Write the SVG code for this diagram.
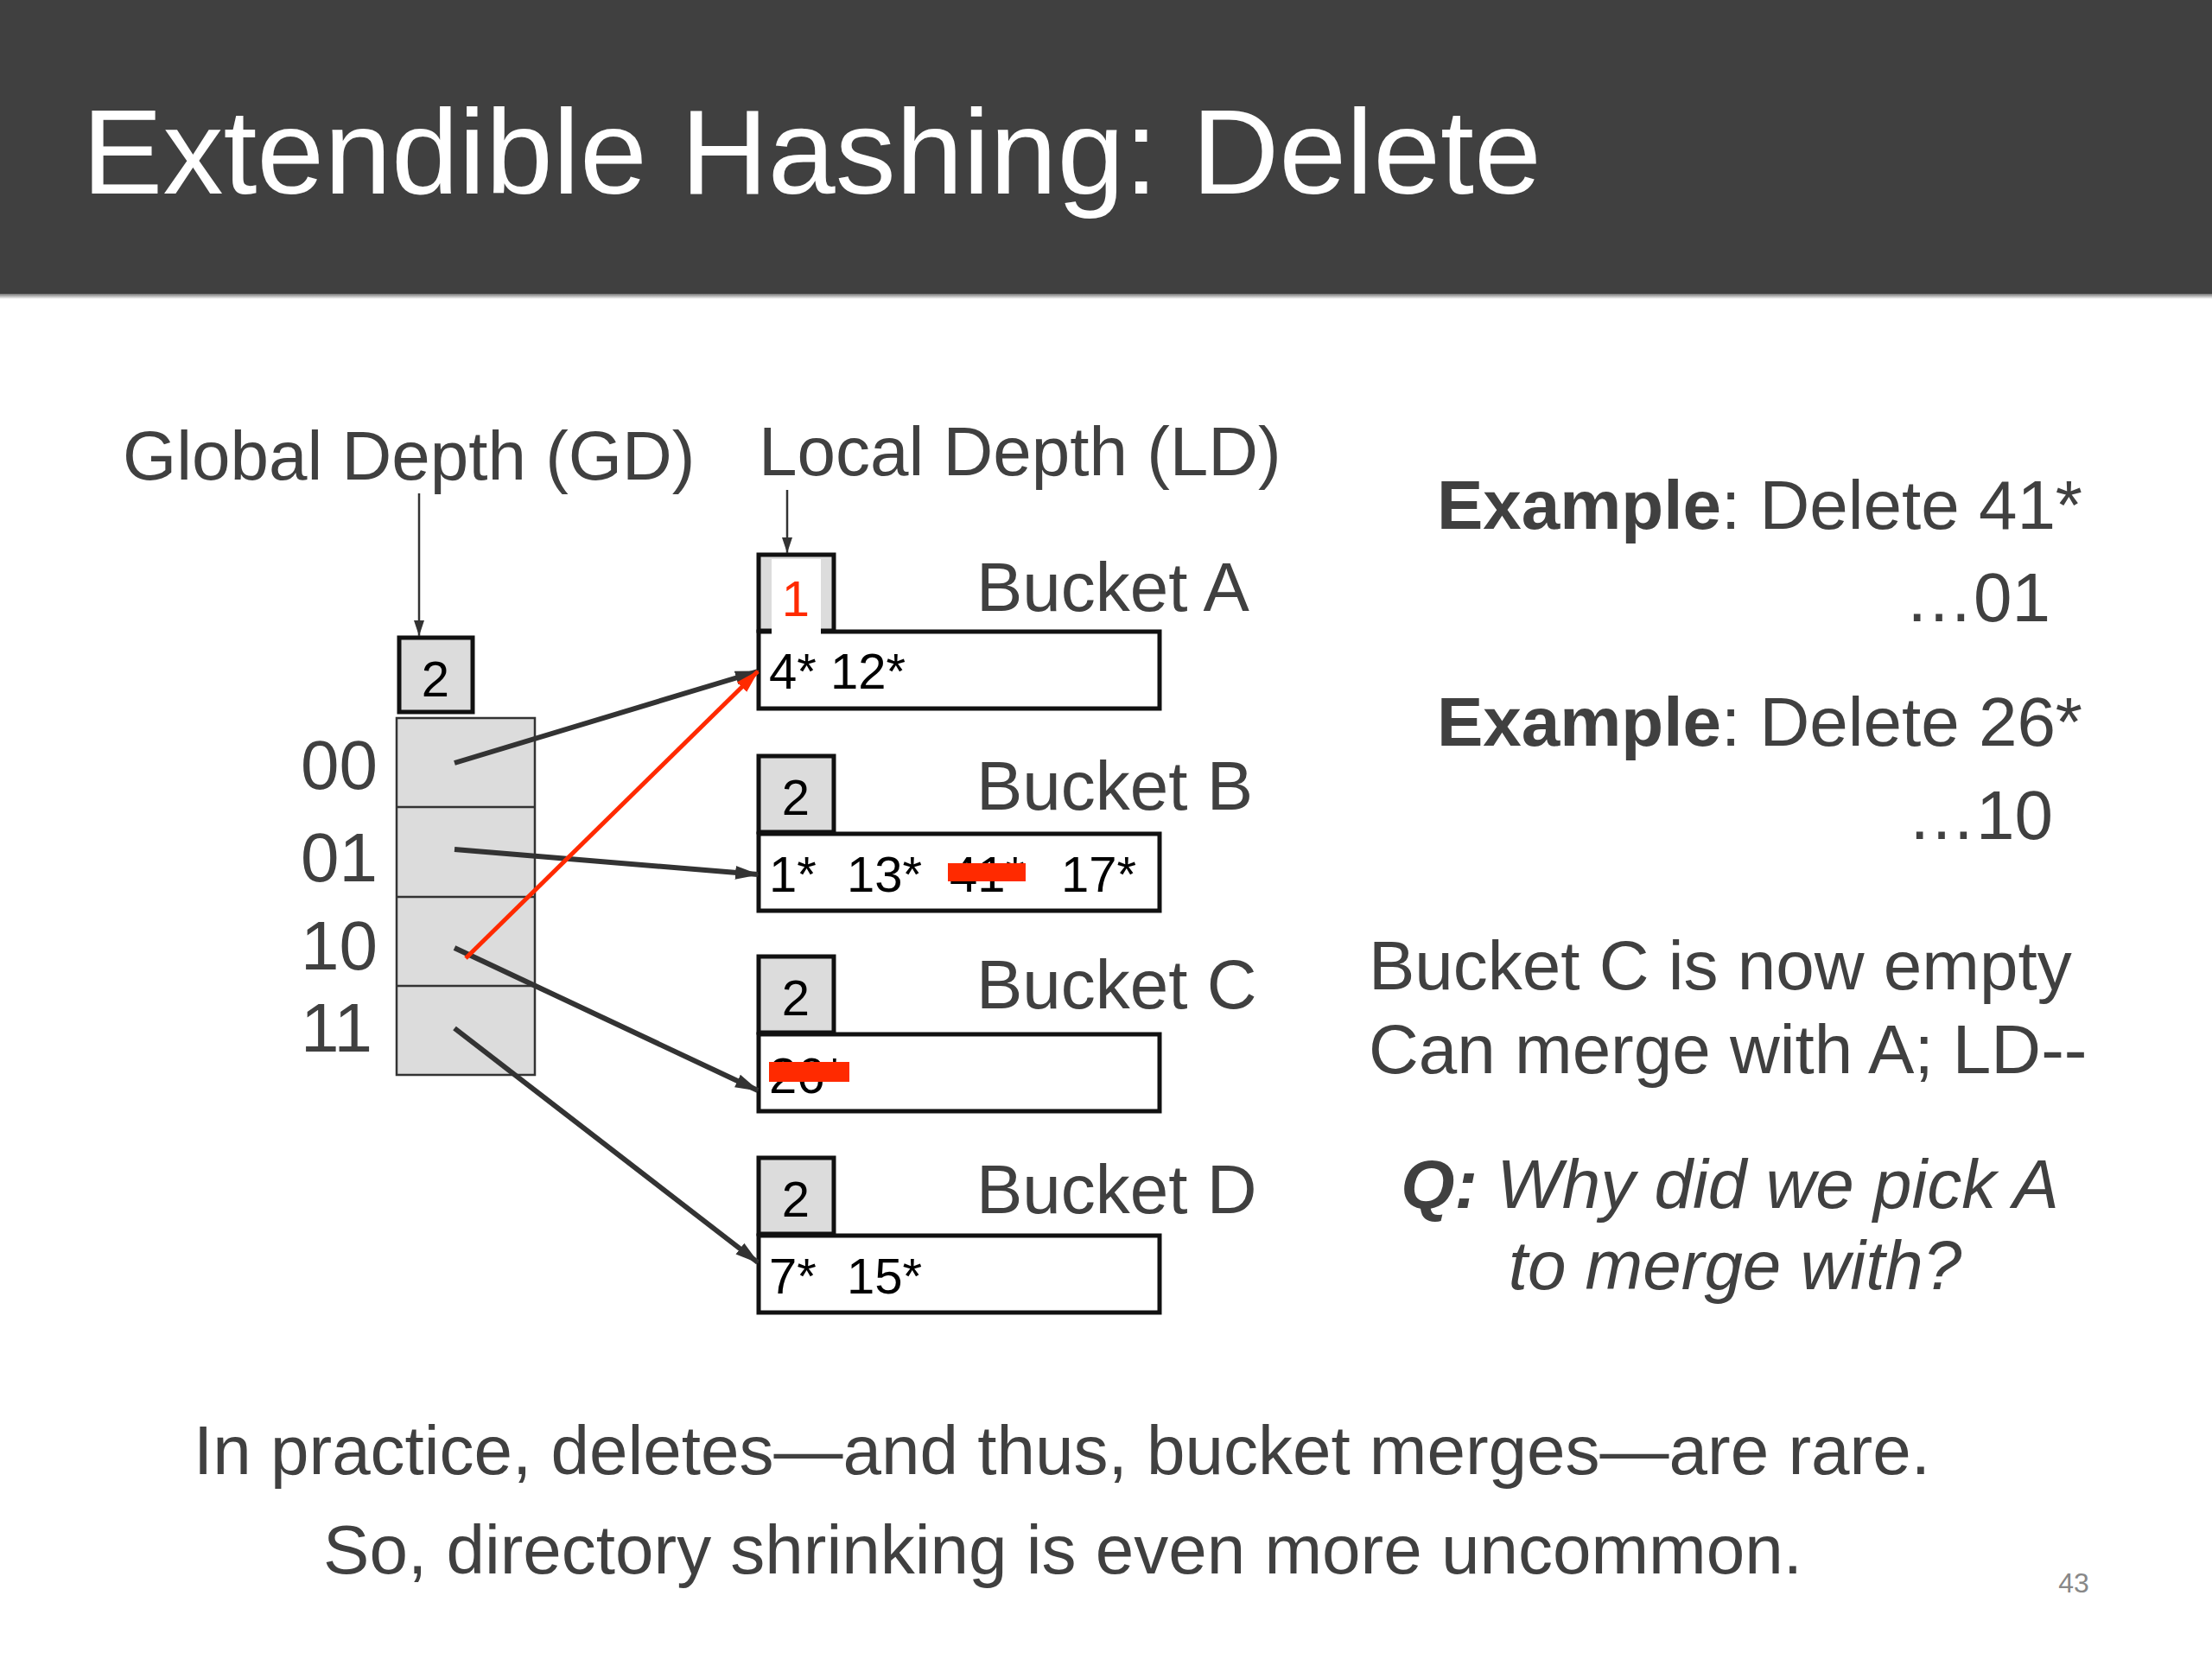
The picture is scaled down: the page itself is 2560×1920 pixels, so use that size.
<svg xmlns="http://www.w3.org/2000/svg" width="2560" height="1920" viewBox="0 0 2560 1920">
<defs>
<style>
text{font-family:"Liberation Sans",Arial,sans-serif;}
.lbl{font-size:80px;fill:#404040;}
.val{font-size:58px;fill:#000;}
.ld{fill:#dcdcdc;stroke:#111;stroke-width:5;}
.bk{fill:#fff;stroke:#111;stroke-width:5;}
.ptr{stroke:#333;stroke-width:6;fill:none;}
.thin{stroke:#333;stroke-width:2.5;fill:none;}
.strike{fill:#ff2a00;}
</style>
<marker id="ah" markerUnits="userSpaceOnUse" markerWidth="30" markerHeight="22" refX="26" refY="11" orient="auto">
<path d="M0,3 L28,11 L0,19 Z" fill="#333"/>
</marker>
<marker id="ahs" markerUnits="userSpaceOnUse" markerWidth="20" markerHeight="14" refX="18" refY="7" orient="auto">
<path d="M0,1 L18,7 L0,13 Z" fill="#333"/>
</marker>
<marker id="ahr" markerUnits="userSpaceOnUse" markerWidth="30" markerHeight="22" refX="26" refY="11" orient="auto">
<path d="M0,3 L28,11 L0,19 Z" fill="#ff2a00"/>
</marker>
<linearGradient id="shadow" x1="0" y1="0" x2="0" y2="1">
<stop offset="0" stop-color="#777"/>
<stop offset="1" stop-color="#fff"/>
</linearGradient>
</defs>
<rect x="0" y="0" width="2560" height="1920" fill="#fff"/>
<g id="header">
<rect x="0" y="0" width="2560" height="340" fill="#404040"/>
<rect x="0" y="340" width="2560" height="6" fill="url(#shadow)"/>
<text x="95" y="224" font-size="140" fill="#fff">Extendible Hashing: Delete</text>
</g>
<g id="gd-label">
<text class="lbl" x="142" y="555">Global Depth (GD)</text>
</g>
<g id="ld-label">
<text class="lbl" x="878" y="550">Local Depth (LD)</text>
</g>
<g id="gd-box">
<rect class="ld" x="462" y="738" width="85" height="86"/>
<text class="val" x="504" y="806" text-anchor="middle">2</text>
</g>
<g id="directory">
<rect x="459" y="831" width="160" height="413" fill="#dcdcdc" stroke="#333" stroke-width="2.5"/>
<line class="thin" x1="459" y1="934" x2="619" y2="934"/>
<line class="thin" x1="459" y1="1038" x2="619" y2="1038"/>
<line class="thin" x1="459" y1="1141" x2="619" y2="1141"/>
<text class="lbl" x="348" y="913">00</text>
<text class="lbl" x="348" y="1020">01</text>
<text class="lbl" x="348" y="1122">10</text>
<text class="lbl" x="348" y="1217">11</text>
</g>
<g id="bucketA">
<rect class="ld" x="878" y="642" width="87" height="88"/>
<rect class="bk" x="878" y="731" width="464" height="89"/>
<rect x="893" y="647" width="57" height="90" fill="#fff"/>
<text x="921" y="713" font-size="58" fill="#ff2a00" text-anchor="middle">1</text>
<text class="val" x="890" y="797">4* 12*</text>
<text class="lbl" x="1130" y="707">Bucket A</text>
</g>
<g id="bucketB">
<rect class="ld" x="878" y="875" width="87" height="88"/>
<rect class="bk" x="878" y="965" width="464" height="89"/>
<text class="val" x="921" y="943" text-anchor="middle">2</text>
<text class="val" x="890" y="1032">1*</text>
<text class="val" x="980" y="1032">13*</text>
<text class="val" x="1099" y="1032">41*</text>
<text class="val" x="1228" y="1032">17*</text>
<rect class="strike" x="1097" y="999" width="90" height="21"/>
<text class="lbl" x="1130" y="937">Bucket B</text>
</g>
<g id="bucketC">
<rect class="ld" x="878" y="1107" width="87" height="88"/>
<rect class="bk" x="878" y="1197" width="464" height="89"/>
<text class="val" x="921" y="1175" text-anchor="middle">2</text>
<text class="val" x="890" y="1265">26*</text>
<rect class="strike" x="890" y="1229" width="93" height="23"/>
<text class="lbl" x="1130" y="1167">Bucket C</text>
</g>
<g id="bucketD">
<rect class="ld" x="878" y="1340" width="87" height="88"/>
<rect class="bk" x="878" y="1430" width="464" height="89"/>
<text class="val" x="921" y="1408" text-anchor="middle">2</text>
<text class="val" x="890" y="1497">7*</text>
<text class="val" x="980" y="1497">15*</text>
<text class="lbl" x="1130" y="1404">Bucket D</text>
</g>
<g id="connectors">
<line class="thin" x1="485" y1="571" x2="485" y2="736" marker-end="url(#ahs)"/>
<line class="thin" x1="911" y1="567" x2="911" y2="640" marker-end="url(#ahs)"/>
<line class="ptr" x1="526" y1="883" x2="877" y2="777" marker-end="url(#ah)"/>
<line class="ptr" x1="526" y1="983" x2="877" y2="1012" marker-end="url(#ah)"/>
<line class="ptr" x1="526" y1="1097" x2="877" y2="1262" marker-end="url(#ah)"/>
<line class="ptr" x1="526" y1="1190" x2="877" y2="1461" marker-end="url(#ah)"/>
<line x1="539" y1="1109" x2="877" y2="777" stroke="#ff2a00" stroke-width="5" marker-end="url(#ahr)"/>
</g>
<g id="notes">
<text class="lbl" x="2410" y="612" text-anchor="end"><tspan font-weight="bold">Example</tspan>: Delete 41*</text>
<text class="lbl" x="2373" y="719" text-anchor="end">…01</text>
<text class="lbl" x="2410" y="863" text-anchor="end"><tspan font-weight="bold">Example</tspan>: Delete 26*</text>
<text class="lbl" x="2376" y="971" text-anchor="end">…10</text>
<text class="lbl" x="1584" y="1145">Bucket C is now empty</text>
<text class="lbl" x="1584" y="1242">Can merge with A; LD--</text>
<text class="lbl" x="2002" y="1398" text-anchor="middle" font-style="italic"><tspan font-weight="bold">Q:</tspan> Why did we pick A</text>
<text class="lbl" x="2008" y="1492" text-anchor="middle" font-style="italic">to merge with?</text>
</g>
<g id="footer">
<text class="lbl" x="1229" y="1706" text-anchor="middle">In practice, deletes—and thus, bucket merges—are rare.</text>
<text class="lbl" x="1230" y="1821" text-anchor="middle">So, directory shrinking is even more uncommon.</text>
<text x="2400" y="1843" font-size="32" fill="#888" text-anchor="middle">43</text>
</g>
</svg>
